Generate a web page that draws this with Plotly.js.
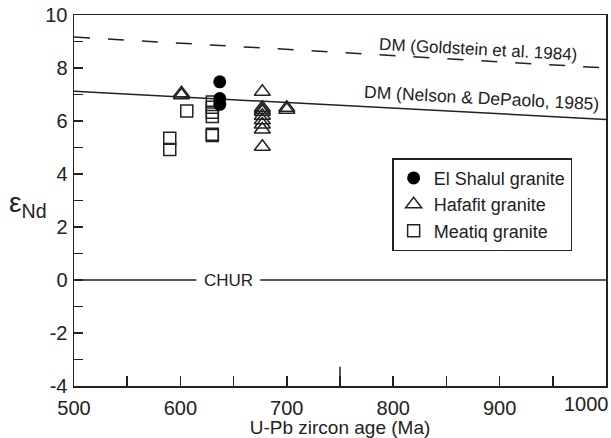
<!DOCTYPE html>
<html>
<head>
<meta charset="utf-8">
<script src="https://cdn.plot.ly/plotly-3.0.1.min.js"></script>
<style>html,body{margin:0;padding:0;background:#fff;}#chart{width:611px;height:438px;}</style>
</head>
<body>
<div id="chart"></div>
<script>
// Data
const shalulAge = [637, 637, 637];
const shalulEps = [7.48, 6.85, 6.63];

const hafafitAge = [601, 601, 677, 677, 677, 677, 677, 677, 677, 677, 677, 700, 700];
const hafafitEps = [7.05, 6.97, 7.1, 6.5, 6.42, 6.35, 6.2, 6.03, 5.87, 5.68, 5.03, 6.5, 6.42];

const meatiqAge = [590, 590, 606, 630, 630, 630, 630, 630, 630];
const meatiqEps = [5.35, 4.92, 6.38, 6.72, 6.52, 6.33, 6.17, 5.5, 5.45];

const dmGoldAge = [500, 1000];
const dmGoldEps = [9.17, 8.0];
const dmNelsonAge = [500, 1000];
const dmNelsonEps = [7.12, 6.06];
const churLeftAge = [500, 615];
const churRightAge = [675, 1000];
const churEps = [0, 0];

const xTickVals = [500, 600, 700, 800, 900];
const xLastTick = 1000;
const yTickVals = [-4, -2, 0, 2, 4, 6, 8, 10];

const FONT = 'Liberation Sans, Arial, sans-serif';

const traces = [
  {x: dmGoldAge, y: dmGoldEps, mode: 'lines', line: {color: '#222', width: 1.5, dash: '16px,18px'}, showlegend: false, hoverinfo: 'skip'},
  {x: dmNelsonAge, y: dmNelsonEps, mode: 'lines', line: {color: '#222', width: 1.5}, showlegend: false, hoverinfo: 'skip'},
  {x: churLeftAge, y: churEps, mode: 'lines', line: {color: '#222', width: 1.5}, showlegend: false, hoverinfo: 'skip'},
  {x: churRightAge, y: churEps, mode: 'lines', line: {color: '#222', width: 1.5}, showlegend: false, hoverinfo: 'skip'},
  {x: meatiqAge, y: meatiqEps, mode: 'markers', name: 'Meatiq granite', legendgroup: 'c', legendrank: 3,
   marker: {symbol: 'square-open', size: 12, color: '#222', line: {width: 1.5}}},
  {x: hafafitAge, y: hafafitEps, mode: 'markers', name: 'Hafafit granite', legendgroup: 'b', legendrank: 2,
   marker: {symbol: 'triangle-up-open', size: 14, color: '#222', line: {width: 1.5}}},
  {x: shalulAge, y: shalulEps, mode: 'markers', name: 'El Shalul granite', legendgroup: 'a', legendrank: 1,
   marker: {symbol: 'circle', size: 13, color: '#000'}}
];

const layout = {
  width: 611, height: 438,
  margin: {l: 74, r: 5, t: 15, b: 52},
  paper_bgcolor: '#fff', plot_bgcolor: '#fff',
  font: {family: FONT, color: '#222', size: 20},
  showlegend: true,
  legend: {
    x: 0.598, y: 0.614, xanchor: 'left', yanchor: 'top',
    bordercolor: '#222', borderwidth: 1.5, bgcolor: '#fff',
    font: {family: FONT, size: 18, color: '#222'},
    tracegroupgap: 5, traceorder: 'normal', itemwidth: 30
  },
  xaxis: {
    range: [500, 1000], tickvals: xTickVals, ticktext: xTickVals.map(String),
    ticks: 'inside', ticklen: 10, tickwidth: 1.5, tickcolor: '#222',
    minor: {dtick: 50, ticks: 'inside', ticklen: 10, tickwidth: 1.5, tickcolor: '#222'},
    showline: true, linecolor: '#222', linewidth: 1.5, mirror: true,
    showgrid: false, zeroline: false,
    tickfont: {size: 20, family: FONT}, ticklabelstandoff: 3,
    title: {text: 'U-Pb zircon age (Ma)', font: {size: 19, family: FONT}, standoff: 6}
  },
  yaxis: {
    range: [-4, 10], tickvals: yTickVals, ticktext: yTickVals.map(String),
    ticks: 'inside', ticklen: 9, tickwidth: 1.5, tickcolor: '#222',
    minor: {dtick: 1, ticks: 'inside', ticklen: 9, tickwidth: 1.5, tickcolor: '#222'},
    showline: true, linecolor: '#222', linewidth: 1.5, mirror: true,
    showgrid: false, zeroline: false,
    tickfont: {size: 20, family: FONT}, ticklabelstandoff: 1
  },
  shapes: [
    {type: 'line', xref: 'x', yref: 'paper', x0: 750, x1: 750, y0: 0, y1: 0.052, line: {color: '#222', width: 1.5}}
  ],
  annotations: [
    {xref: 'paper', yref: 'paper', x: 1.0094, y: 0, xanchor: 'right', yanchor: 'top', yshift: -5, showarrow: false,
     text: String(xLastTick), font: {size: 20, family: FONT, color: '#222'}},
    {xref: 'paper', yref: 'paper', x: -0.126, y: 0.49, xanchor: 'left', yanchor: 'middle', showarrow: false,
     text: 'ε<sub>Nd</sub>', font: {size: 28, family: FONT, color: '#222'}},
    {xref: 'x', yref: 'y', x: 880, y: 8.68, showarrow: false, textangle: 3,
     text: 'DM (Goldstein et al. 1984)', font: {size: 17, family: FONT, color: '#222'}},
    {xref: 'x', yref: 'y', x: 883, y: 6.88, showarrow: false, textangle: 3,
     text: 'DM (Nelson &amp; DePaolo, 1985)', font: {size: 17.5, family: FONT, color: '#222'}},
    {xref: 'x', yref: 'y', x: 645, y: 0, showarrow: false,
     text: 'CHUR', font: {size: 17, family: FONT, color: '#222'}}
  ]
};

Plotly.newPlot('chart', traces, layout, {displayModeBar: false, staticPlot: true});
</script>
</body>
</html>
